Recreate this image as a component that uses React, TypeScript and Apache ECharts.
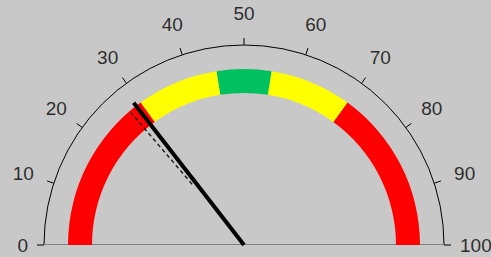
import { useEffect, useRef } from 'react';
import * as echarts from 'echarts';

// ---- data ----
const tickValues = [0, 10, 20, 30, 40, 50, 60, 70, 80, 90, 100];
const bandStops = [0.3, 0.45, 0.55, 0.7, 1];
const bandColors = ['#ff0000', '#ffff00', '#00c060', '#ffff00', '#ff0000'];
const needleValue = 29;
const previousValue = 27.5;
const scaleMin = 0;
const scaleMax = 100;

// ---- layout ----
const CX = 244;
const CY = 245;
const SCALE_R = 200;
const BAND_R = 176;
const BAND_W = 24;
const LABEL_R = 232;
const END_LABEL_R = 216;
const PREV_R_START = 80;
const PREV_R_END = 174;

export default function App() {
  const ref = useRef<HTMLDivElement>(null);

  useEffect(() => {
    document.body.style.margin = '0';
    if (!ref.current) return;
    const chart = echarts.init(ref.current, undefined, { renderer: 'svg' });
    const labelData = tickValues.map((v) => {
      if (v === scaleMin) return { value: [END_LABEL_R, v], label: { align: 'right' } };
      if (v === scaleMax) return { value: [END_LABEL_R, v], label: { align: 'left' } };
      return { value: [LABEL_R, v] };
    });
    const option: any = {
      animation: false,
      backgroundColor: '#c8c8c8',
      polar: { center: [CX, CY], radius: SCALE_R },
      radiusAxis: { type: 'value', min: 0, max: SCALE_R, show: false },
      angleAxis: {
        type: 'value',
        min: scaleMin,
        max: scaleMax,
        interval: 10,
        startAngle: 180,
        endAngle: 0,
        clockwise: true,
        axisLine: { show: true, lineStyle: { color: '#000', width: 1 } },
        axisTick: { show: true, length: 7, lineStyle: { color: '#000', width: 1 } },
        axisLabel: { show: false },
        splitLine: { show: false },
        splitArea: { show: false },
      },
      series: [
        {
          type: 'line',
          coordinateSystem: 'polar',
          silent: true,
          symbol: 'none',
          clip: false,
          data: [
            [SCALE_R, scaleMin],
            [SCALE_R, scaleMax],
          ],
          lineStyle: { color: '#808080', width: 2 },
          z: 1,
        },
        {
          type: 'gauge',
          center: [CX, CY],
          radius: BAND_R,
          startAngle: 180,
          endAngle: 0,
          min: scaleMin,
          max: scaleMax,
          splitNumber: 10,
          axisLine: {
            lineStyle: {
              width: BAND_W,
              color: bandStops.map((s, i) => [s, bandColors[i]]),
            },
          },
          axisTick: { show: false },
          splitLine: { show: false },
          axisLabel: { show: false },
          pointer: {
            show: true,
            icon: 'rect',
            width: 4,
            length: 180,
            itemStyle: { color: '#000' },
          },
          anchor: { show: false },
          title: { show: false },
          detail: { show: false },
          data: [{ value: needleValue }],
          z: 3,
        },
        {
          type: 'line',
          coordinateSystem: 'polar',
          silent: true,
          symbol: 'none',
          clip: false,
          data: [
            [PREV_R_START, previousValue],
            [PREV_R_END, previousValue],
          ],
          lineStyle: { color: '#222', width: 1.5, type: [4, 3] },
          z: 4,
        },
        {
          type: 'scatter',
          coordinateSystem: 'polar',
          silent: true,
          clip: false,
          symbol: 'circle',
          symbolSize: 2,
          itemStyle: { color: 'rgba(0,0,0,0)' },
          data: labelData,
          label: {
            show: true,
            position: 'inside',
            formatter: (p: any) => String(p.value[1]),
            fontSize: 19,
            fontFamily: 'Liberation Sans, Arial, sans-serif',
            color: '#000',
          },
          labelLayout: { hideOverlap: false },
          z: 5,
        },
      ],
    };
    chart.setOption(option);
    return () => chart.dispose();
  }, []);

  return (
    <div
      ref={ref}
      style={{ position: 'absolute', left: 0, top: 0, width: 491, height: 257 }}
    />
  );
}
